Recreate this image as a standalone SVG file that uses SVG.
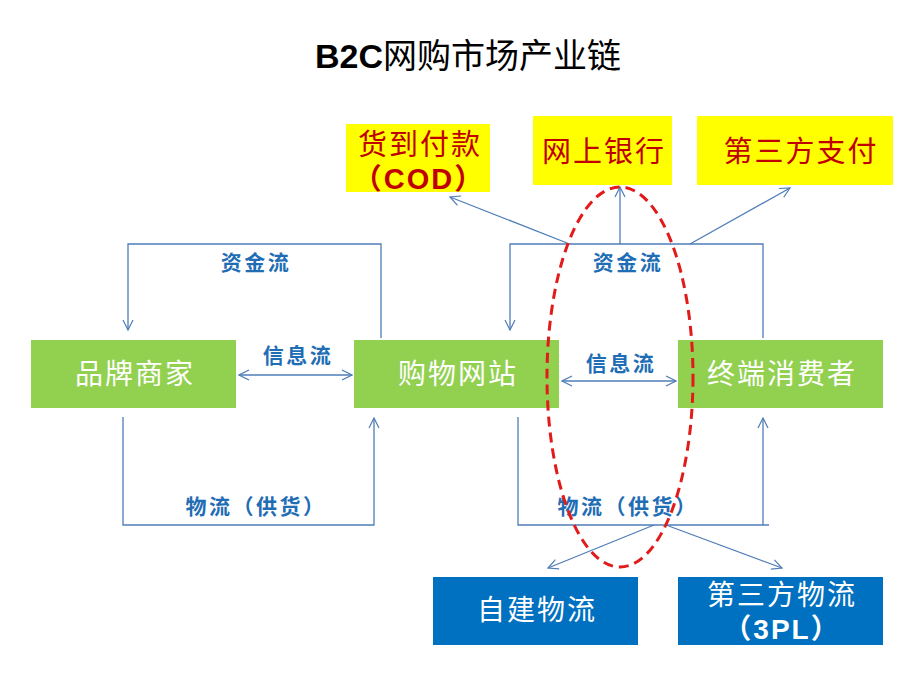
<svg xmlns="http://www.w3.org/2000/svg" width="920" height="690" viewBox="0 0 920 690">
<defs>
<marker id="arr" viewBox="0 0 12 12" refX="11" refY="6" markerWidth="12" markerHeight="12" markerUnits="userSpaceOnUse" orient="auto-start-reverse">
<polyline points="1,1 11,6 1,11" fill="none" stroke="#4F7DB8" stroke-width="1.2"/>
</marker>
<style>
.cn{font-family:"Liberation Sans","Noto Sans CJK SC",sans-serif}
.ln{fill:none;stroke:#4F7DB8;stroke-width:1.3}
.g{fill:#92D050}
.y{fill:#FFFF00}
.b{fill:#0070C0}
.wt{font-size:28px;fill:#FFFFFF;text-anchor:middle;letter-spacing:2px}
.rt{font-size:29px;fill:#C00000;text-anchor:middle;letter-spacing:2px}
.lb{font-size:21px;fill:#1F6DB5;font-weight:bold;text-anchor:middle;letter-spacing:2.5px}
</style>
</defs>
<rect width="920" height="690" fill="#FFFFFF"/>
<text class="cn" x="468" y="68" font-size="34" text-anchor="middle" fill="#000"><tspan font-weight="bold">B2C</tspan>网购市场产业链</text>

<g id="connectors">
<polyline class="ln" points="381,338 381,244 128,244 128,330" marker-end="url(#arr)"/>
<polyline class="ln" points="763,338 763,244 510,244 510,330" marker-end="url(#arr)"/>
<line class="ln" x1="620" y1="244" x2="620" y2="187" marker-end="url(#arr)"/>
<line class="ln" x1="567" y1="243" x2="450" y2="197" marker-end="url(#arr)"/>
<line class="ln" x1="690" y1="244" x2="790" y2="188" marker-end="url(#arr)"/>
<line class="ln" x1="239" y1="375" x2="352" y2="375" marker-start="url(#arr)" marker-end="url(#arr)"/>
<line class="ln" x1="562" y1="381" x2="676" y2="381" marker-start="url(#arr)" marker-end="url(#arr)"/>
<polyline class="ln" points="123,417 123,525 374,525 374,418" marker-end="url(#arr)"/>
<polyline class="ln" points="518,417 518,525 769,525"/>
<line class="ln" x1="763" y1="525" x2="763" y2="418" marker-end="url(#arr)"/>
<line class="ln" x1="654" y1="525" x2="548" y2="568" marker-end="url(#arr)"/>
<line class="ln" x1="666" y1="525" x2="782" y2="568" marker-end="url(#arr)"/>
<text class="cn lb" x="256" y="270">资金流</text>
<text class="cn lb" x="628" y="270">资金流</text>
<text class="cn lb" x="298" y="363">信息流</text>
<text class="cn lb" x="621" y="371">信息流</text>
<text class="cn lb" x="256" y="514">物流（供货）</text>
<text class="cn lb" x="628" y="514">物流（供货）</text>
</g>

<g id="cod"><rect class="y" x="346" y="124" width="144" height="68"/>
<text class="cn rt" x="420" y="155">货到付款</text>
<text class="cn rt" x="419" y="189" font-weight="bold" font-size="26">（COD）</text></g>
<g id="ebank"><rect class="y" x="533" y="116" width="139" height="69"/>
<text class="cn rt" x="604" y="162">网上银行</text></g>
<g id="thirdpay"><rect class="y" x="697" y="116" width="196" height="69"/>
<text class="cn rt" x="801" y="162">第三方支付</text></g>

<g id="brand"><rect class="g" x="31" y="340" width="205" height="68"/>
<text class="cn wt" x="135" y="384">品牌商家</text></g>
<g id="shop"><rect class="g" x="354" y="340" width="205" height="68"/>
<text class="cn wt" x="458" y="384">购物网站</text></g>
<g id="consumer"><rect class="g" x="678" y="340" width="205" height="68"/>
<text class="cn wt" x="782" y="384">终端消费者</text></g>

<g id="self"><rect class="b" x="433" y="577" width="205" height="68"/>
<text class="cn wt" x="537" y="620">自建物流</text></g>
<g id="tpl"><rect class="b" x="678" y="577" width="205" height="68"/>
<text class="cn wt" x="782" y="605">第三方物流</text>
<text class="cn wt" x="782" y="639" font-weight="bold" font-size="25">（3PL）</text></g>

<ellipse id="focus" cx="620" cy="377" rx="73" ry="190" fill="none" stroke="#E21A1A" stroke-width="3" stroke-dasharray="10,6"/>
</svg>
